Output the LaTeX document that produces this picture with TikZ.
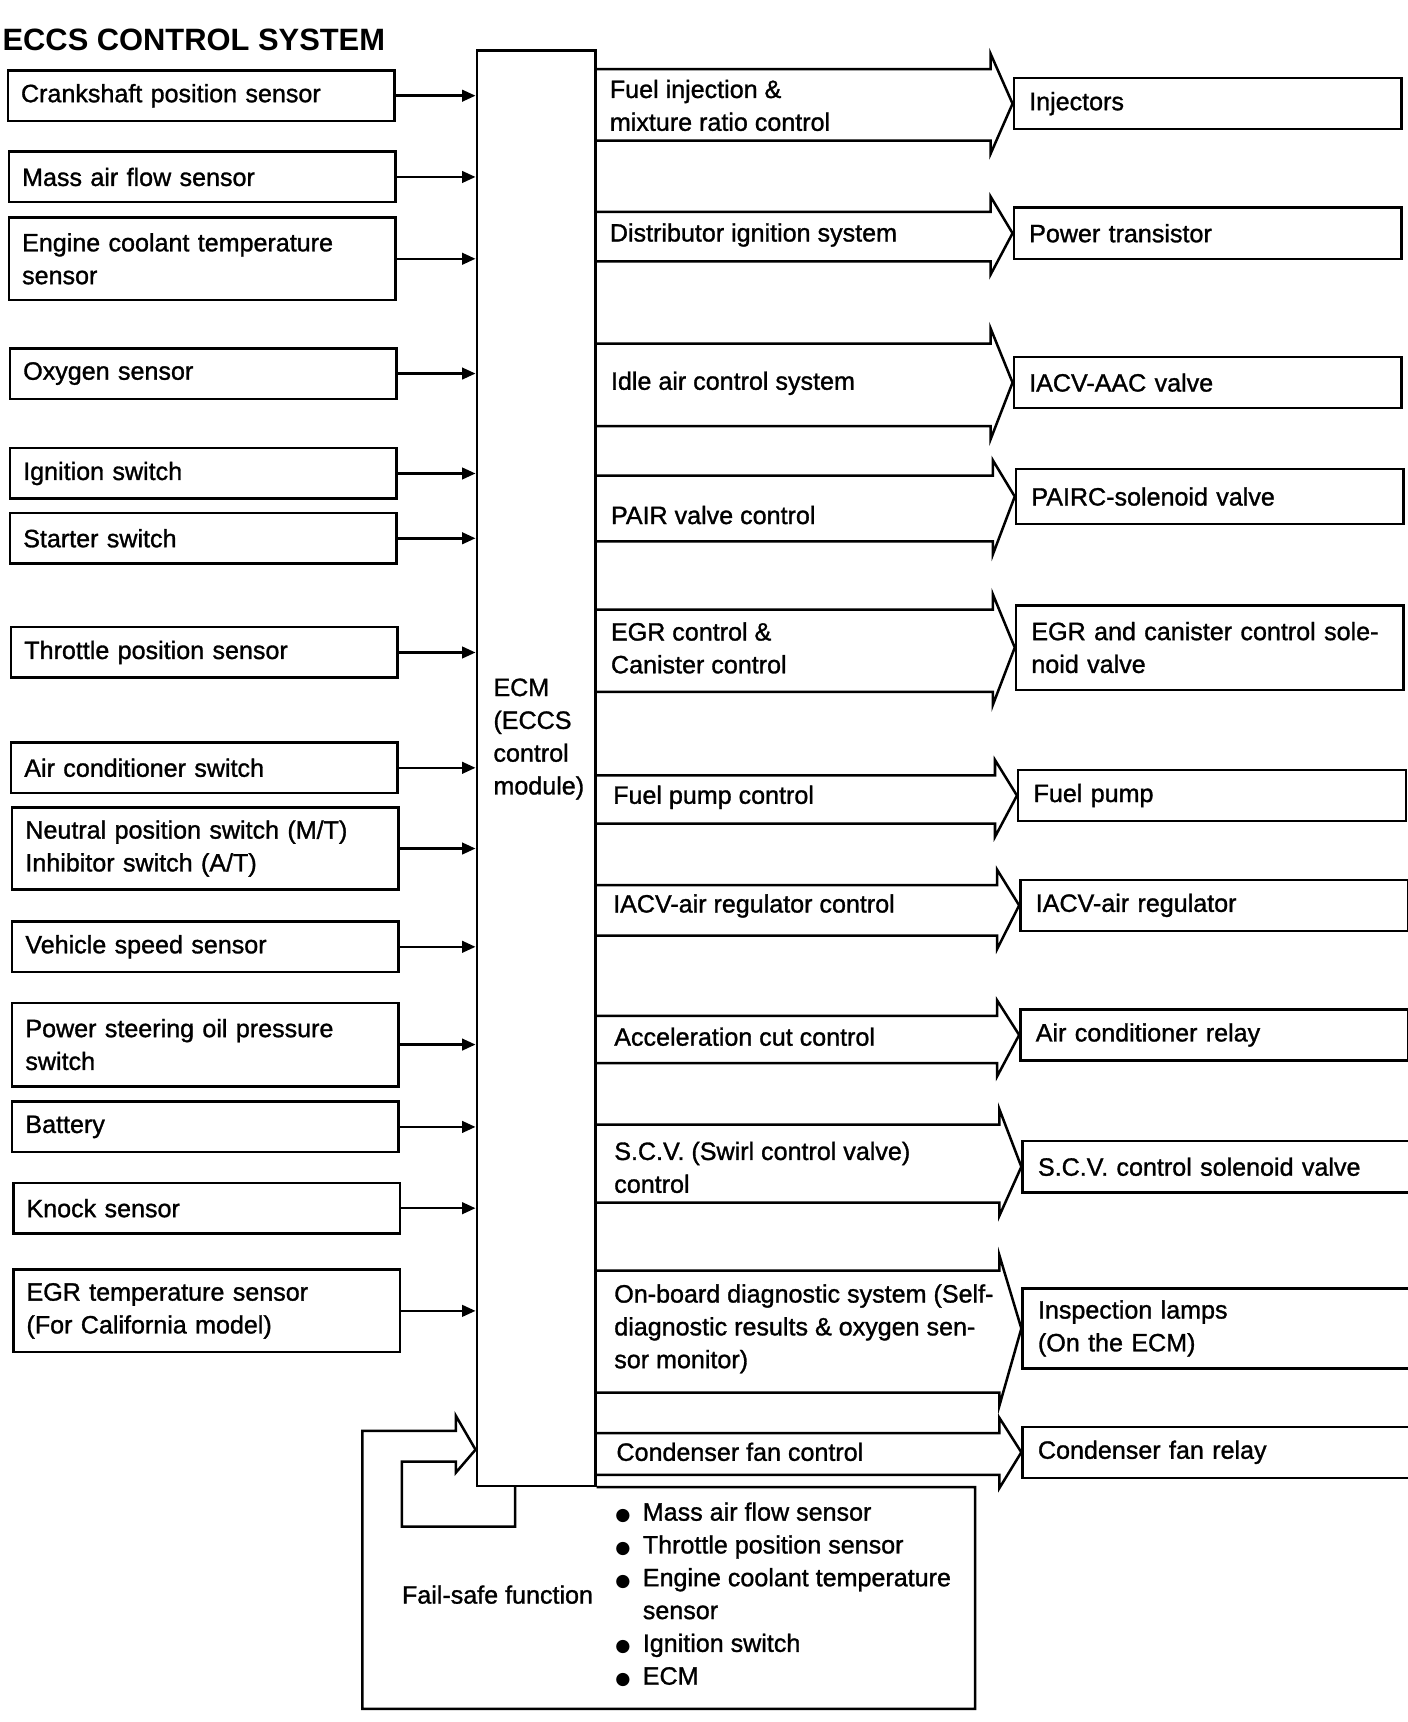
\documentclass[tikz,border=0pt]{standalone}
\usepackage{fontspec}
\setmainfont{Liberation Sans}
\newfontfamily\medfont{Liberation Sans}[FakeBold=1.2]
\newfontfamily\symfont{DejaVu Sans}
\usetikzlibrary{arrows.meta}

% wide arrow from the ECM to an output box: body top, body bottom, target
\newcommand{\ctlarrow}[3]{%
  \path (#3.west) ++(-20,0) coordinate (hb);
  \draw[fat] (ecm.east |- 0,#1) -- (hb |- 0,#1) -- (hb |- 0,#1-14)
    -- (#3.west) -- (hb |- 0,#2+12) -- (hb |- 0,#2) -- (ecm.east |- 0,#2);
}
\newcommand{\fsitem}{\makebox[0.5cm][l]{\symfont\fontsize{9}{9}\selectfont ●}}

\begin{document}
\begin{tikzpicture}[
  x=0.02cm, y=-0.02cm,
  every node/.style = {font=\medfont\fontsize{13}{17}\selectfont},
  inbox/.style   = {rectangle, draw, line width=1.3pt, anchor=north west,
                    text width=6.56cm, inner xsep=0.24cm, align=left,
                    minimum height=#1},
  inbox/.default = 0.92cm,
  outbox/.style  = {rectangle, draw, line width=1.3pt, anchor=north west,
                    text width=6.5cm, inner xsep=0.28cm, align=left,
                    minimum height=#1},
  outbox/.default = 0.93cm,
  ctltext/.style = {anchor=west, align=left, inner sep=0pt},
  inarr/.style   = {-{Triangle[length=7pt,width=6pt]}, line width=1.3pt},
  fat/.style     = {line width=1.3pt, line join=miter},
]
\useasboundingbox (0,0) rectangle (1282,1568);

\node[anchor=west, inner sep=0pt, font=\bfseries\fontsize{16}{19}\selectfont]
  at (2, 36) (title) {ECCS CONTROL SYSTEM};

%% ══ ECM ══════════════════════════════════════════════════════════════════
\node[rectangle, draw, line width=1.3pt, anchor=north west, inner sep=0pt,
      minimum width=2.16cm, minimum height=26.14cm] at (433, 45) (ecm) {};
\node[anchor=west, align=left, inner sep=0pt] at (449, 673) (ecmlbl)
  {ECM\\(ECCS\\control\\module)};

%% ══ INPUTS (sensors and switches) ════════════════════════════════════════
\node[inbox] at (6, 63)     (crank) {Crankshaft position sensor};
\node[inbox] at (7, 137)    (maf)   {Mass air flow sensor};
\node[inbox=1.5cm] at (7, 197) (ect) {Engine coolant temperature\\sensor};
\node[inbox] at (8, 316)    (otwo)  {Oxygen sensor};
\node[inbox] at (8, 407)    (ign)   {Ignition switch};
\node[inbox] at (8, 466)    (start) {Starter switch};
\node[inbox] at (9, 570)    (tps)   {Throttle position sensor};
\node[inbox] at (9, 675)    (acsw)  {Air conditioner switch};
\node[inbox=1.5cm] at (10, 734) (nps) {Neutral position switch (M/T)\\Inhibitor switch (A/T)};
\node[inbox] at (10, 838)   (vss)   {Vehicle speed sensor};
\node[inbox=1.52cm] at (10, 912) (pst) {Power steering oil pressure\\switch};
\node[inbox] at (10, 1002)  (bat)   {Battery};
\node[inbox] at (11, 1076)  (knock) {Knock sensor};
\node[inbox=1.5cm] at (11, 1155) (egrt) {EGR temperature sensor\\(For California model)};

\draw[inarr] (crank.east) -- (crank.east -| ecm.west);
\draw[inarr] (maf.east)   -- (maf.east -| ecm.west);
\draw[inarr] (ect.east)   -- (ect.east -| ecm.west);
\draw[inarr] (otwo.east)  -- (otwo.east -| ecm.west);
\draw[inarr] (ign.east)   -- (ign.east -| ecm.west);
\draw[inarr] (start.east) -- (start.east -| ecm.west);
\draw[inarr] (tps.east)   -- (tps.east -| ecm.west);
\draw[inarr] (acsw.east)  -- (acsw.east -| ecm.west);
\draw[inarr] (nps.east)   -- (nps.east -| ecm.west);
\draw[inarr] (vss.east)   -- (vss.east -| ecm.west);
\draw[inarr] (pst.east)   -- (pst.east -| ecm.west);
\draw[inarr] (bat.east)   -- (bat.east -| ecm.west);
\draw[inarr] (knock.east) -- (knock.east -| ecm.west);
\draw[inarr] (egrt.east)  -- (egrt.east -| ecm.west);

%% ══ OUTPUTS (actuators) ══════════════════════════════════════════════════
\node[outbox] at (922, 70)   (inj)   {Injectors};
\node[outbox] at (922, 188)  (ptr)   {Power transistor};
\node[outbox] at (922, 324)  (iacv)  {IACV-AAC valve};
\node[outbox=1.0cm] at (924, 426) (pairc) {PAIRC-solenoid valve};
\node[outbox=1.54cm] at (924, 550) (egrv) {EGR and canister control sole-\\noid valve};
\node[outbox] at (926, 700)  (fpump) {Fuel pump};
\node[outbox] at (928, 800)  (iacvr) {IACV-air regulator};
\node[outbox] at (928, 918)  (acrly) {Air conditioner relay};
\node[outbox] at (930, 1038) (scvv)  {S.C.V. control solenoid valve};
\node[outbox=1.46cm] at (930, 1172) (lamps) {Inspection lamps\\(On the ECM)};
\node[outbox] at (930, 1298) (cfrly) {Condenser fan relay};

%% ── control functions: wide arrows ECM -> outputs ────────────────────────
\ctlarrow{63}{128}{inj}
\ctlarrow{193}{238}{ptr}
\ctlarrow{313}{388}{iacv}
\ctlarrow{433}{493}{pairc}
\ctlarrow{555}{630}{egrv}
\ctlarrow{706}{750}{fpump}
\ctlarrow{806}{852}{iacvr}
\ctlarrow{925}{968}{acrly}
\ctlarrow{1024}{1095}{scvv}
\ctlarrow{1157}{1268}{lamps}
\ctlarrow{1305}{1343}{cfrly}

\node[ctltext] at (555, 96)   (fic)  {Fuel injection \&\\mixture ratio control};
\node[ctltext] at (555, 214)  (dis)  {Distributor ignition system};
\node[ctltext] at (556, 349)  (iac)  {Idle air control system};
\node[ctltext] at (556, 469)  (pair) {PAIR valve control};
\node[ctltext] at (556, 590)  (egrc) {EGR control \&\\Canister control};
\node[ctltext] at (558, 726)  (fpc)  {Fuel pump control};
\node[ctltext] at (558, 825)  (iarc) {IACV-air regulator control};
\node[ctltext] at (559, 944)  (acc)  {Acceleration cut control};
\node[ctltext] at (559, 1063) (scvc) {S.C.V. (Swirl control valve)\\control};
\node[ctltext] at (559, 1210) (obd)  {On-board diagnostic system (Self-\\diagnostic results \& oxygen sen-\\sor monitor)};
\node[ctltext] at (561, 1322) (cfc)  {Condenser fan control};

%% ══ FAIL-SAFE LOOP ═══════════════════════════════════════════════════════
\draw[fat] (ecm.south east) -- (888,0 |- ecm.south east) -- (888,1556)
  -- (330,1556) -- (330,1303) -- (415,1303) -- (415,1289)
  -- (ecm.west |- 0,1320) -- (415,1341) -- (415,1331) -- (366,1331)
  -- (366,1390) -- (469,1390) -- (469,0 |- ecm.south);

\node at (453, 1452) (fstitle) {Fail-safe function};
\node[anchor=west, align=left, inner sep=0pt] at (560, 1452) (fslist) {%
  \fsitem Mass air flow sensor\\
  \fsitem Throttle position sensor\\
  \fsitem Engine coolant temperature\\
  \hspace*{0.5cm}sensor\\
  \fsitem Ignition switch\\
  \fsitem ECM};

\end{tikzpicture}
\end{document}
